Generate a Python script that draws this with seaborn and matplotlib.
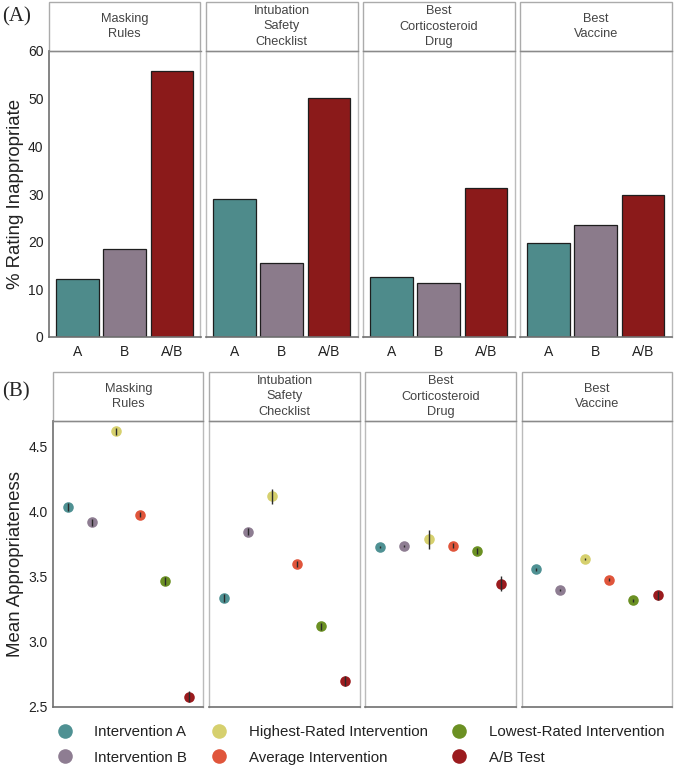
import numpy as np
import pandas as pd
import matplotlib
matplotlib.use("Agg")
import matplotlib.pyplot as plt
from matplotlib.patches import Rectangle
from matplotlib.lines import Line2D
import seaborn as sns

# ---- data ----
topics = ["Masking\nRules", "Intubation\nSafety\nChecklist",
          "Best\nCorticosteroid\nDrug", "Best\nVaccine"]
bar_groups = ["A", "B", "A/B"]
pct_A = [12.1, 29.0, 12.6, 19.7]
pct_B = [18.4, 15.6, 11.4, 23.6]
pct_AB = [55.8, 50.1, 31.2, 29.8]

conditions = ["Intervention A", "Intervention B", "Highest-Rated Intervention",
              "Average Intervention", "Lowest-Rated Intervention", "A/B Test"]
mean_masking = [4.04, 3.92, 4.62, 3.98, 3.47, 2.58]
mean_intubation = [3.34, 3.85, 4.12, 3.60, 3.12, 2.70]
mean_cortico = [3.73, 3.74, 3.79, 3.74, 3.70, 3.45]
mean_vaccine = [3.56, 3.40, 3.64, 3.48, 3.32, 3.36]
se_masking = [0.03, 0.03, 0.03, 0.02, 0.03, 0.04]
se_intubation = [0.03, 0.03, 0.06, 0.02, 0.03, 0.04]
se_cortico = [0.01, 0.01, 0.075, 0.02, 0.02, 0.055]
se_vaccine = [0.01, 0.01, 0.01, 0.01, 0.01, 0.035]

bar_colors = ["#4E8B8B", "#8B7B8B", "#8B1A1A"]
point_colors = ["#4F9193", "#8E7D92", "#D6D06E", "#E0553B", "#6B9023", "#9B1B1E"]

sns.set_style("white")
plt.rcParams["font.family"] = ["Liberation Sans", "DejaVu Sans"]

W, H = 674, 768
fig = plt.figure(figsize=(W / 100, H / 100), dpi=100)

border_col = "#BBBBBB"
axis_col = "#707070"
strip_h = 49 / 286


def style_panel(ax, title, first, show_x):
    for side in ["top", "right"]:
        ax.spines[side].set_color(border_col)
        ax.spines[side].set_linewidth(1.0)
    ax.spines["top"].set_color("#8A8A8A")
    ax.spines["left"].set_color(axis_col if first else border_col)
    ax.spines["left"].set_linewidth(1.2 if first else 1.0)
    ax.spines["bottom"].set_color(axis_col)
    ax.spines["bottom"].set_linewidth(1.2)
    ax.add_patch(Rectangle((0, 1), 1, strip_h, transform=ax.transAxes,
                           facecolor="white", edgecolor="#ABABAB",
                           linewidth=1.0, clip_on=False))
    ax.text(0.5, 1 + strip_h / 2, title, transform=ax.transAxes,
            ha="center", va="center", fontsize=9.2, color="#444444",
            linespacing=1.38)
    ax.set_xlabel("")
    ax.set_ylabel("")
    ax.tick_params(axis="y", length=2.5 if first else 0, width=0.8,
                   color="#444", labelsize=10, labelcolor="#222", pad=1.5,
                   labelleft=first)
    ax.tick_params(axis="x", length=2.5 if show_x else 0, width=0.8,
                   color="#444", labelsize=10, labelcolor="#222", pad=3,
                   labelbottom=show_x)


# ---- panel A ----
pct_all = [pct_A, pct_B, pct_AB]
for i, topic in enumerate(topics):
    ax = fig.add_axes([(49 + 157 * i) / W, 1 - 337 / H, 151.5 / W, 286 / H])
    df = pd.DataFrame({"group": bar_groups,
                       "pct": [p[i] for p in pct_all]})
    sns.barplot(data=df, x="group", y="pct", hue="group", order=bar_groups,
                hue_order=bar_groups, palette=bar_colors, width=0.9,
                edgecolor="#1E1E1E", linewidth=0.9, saturation=1,
                legend=False, ax=ax)
    ax.set_xlim(-0.6, 2.6)
    ax.set_ylim(0, 60)
    ax.set_yticks([0, 10, 20, 30, 40, 50, 60])
    style_panel(ax, topic, i == 0, True)
    if i == 0:
        ax.set_ylabel("% Rating Inappropriate", fontsize=13.4, color="#222",
                      labelpad=3)

# ---- panel B ----
means = [mean_masking, mean_intubation, mean_cortico, mean_vaccine]
ses = [se_masking, se_intubation, se_cortico, se_vaccine]
for i, topic in enumerate(topics):
    ax = fig.add_axes([(53 + 156.2 * i) / W, 1 - 707 / H, 150.5 / W, 286 / H])
    df = pd.DataFrame({"condition": conditions, "mean": means[i],
                       "se": ses[i]})
    sns.stripplot(data=df, x="condition", y="mean", hue="condition",
                  order=conditions, hue_order=conditions,
                  palette=point_colors, jitter=False, size=7.6, linewidth=0,
                  legend=False, ax=ax, zorder=2)
    ax.errorbar(np.arange(len(conditions)), df["mean"], yerr=df["se"],
                fmt="none", ecolor="#2A2A2A", elinewidth=1.0, zorder=3)
    ax.set_xlim(-0.6, 5.6)
    ax.set_ylim(2.5, 4.7)
    ax.set_yticks([2.5, 3.0, 3.5, 4.0, 4.5])
    ax.set_yticklabels(["2.5", "3.0", "3.5", "4.0", "4.5"])
    style_panel(ax, topic, i == 0, False)
    if i == 0:
        ax.set_ylabel("Mean Appropriateness", fontsize=13.4, color="#222",
                      labelpad=3)

# panel tags
fig.text(2 / W, 1 - 17 / H, "(A)", fontsize=15, family="Liberation Serif",
         va="center", ha="left")
fig.text(2 / W, 1 - 392 / H, "(B)", fontsize=15, family="Liberation Serif",
         va="center", ha="left")

# legend
handles = [Line2D([], [], marker="o", linestyle="none", markersize=10.5,
                  markerfacecolor=c, markeredgewidth=0) for c in point_colors]
fig.legend(handles, conditions, ncol=3, loc="center left",
           bbox_to_anchor=(57 / W, 1 - 745 / H), frameon=False,
           fontsize=10.8, handlelength=1.0, handletextpad=1.5,
           columnspacing=1.6, labelspacing=0.75, borderpad=0,
           borderaxespad=0, labelcolor="#222")

fig.savefig("out.png", dpi=100, facecolor="white")
